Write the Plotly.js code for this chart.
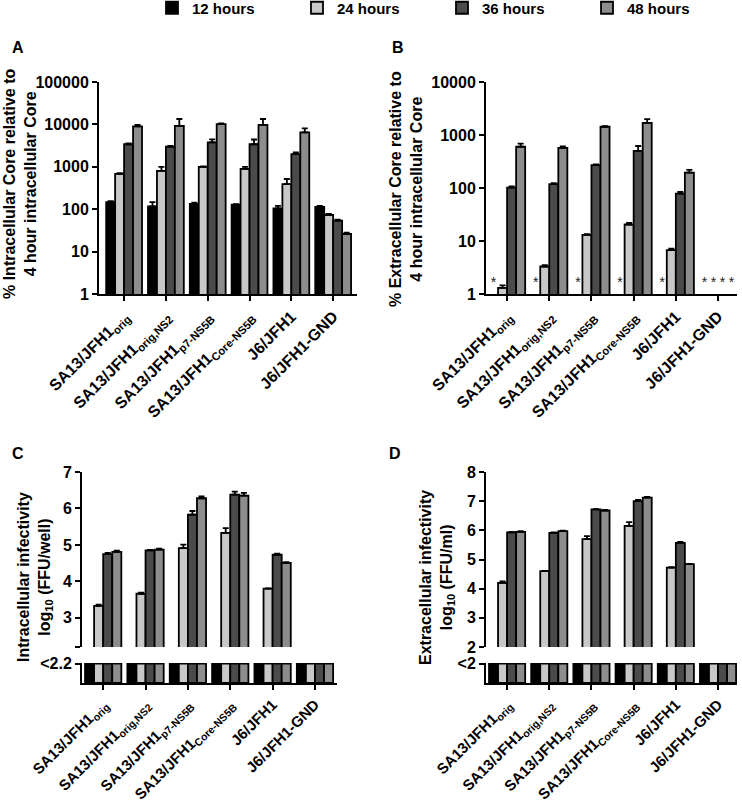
<!DOCTYPE html>
<html>
<head>
<meta charset="utf-8">
<script src="https://cdn.plot.ly/plotly-3.0.1.min.js"></script>
<style>html,body{margin:0;padding:0;background:#fff;} #chart{width:742px;height:806px;}</style>
</head>
<body>
<div id="chart"></div>
<script>
// ---------- DATA ----------
const strains = ["SA13/JFH1<sub>orig</sub>", "SA13/JFH1<sub>orig,NS2</sub>", "SA13/JFH1<sub>p7-NS5B</sub>", "SA13/JFH1<sub>Core-NS5B</sub>", "J6/JFH1", "J6/JFH1-GND"];
const seriesNames = ["12 hours", "24 hours", "36 hours", "48 hours"];
const seriesColors = ["#000000", "#c8c8c8", "#4b4b4b", "#8d8d8d"];

// Panel A: % intracellular Core relative to 4 h intracellular Core
const A_12h = [146, 117, 133, 128, 105, 114];
const A_24h = [680, 800, 1000, 890, 390, 73];
const A_36h = [3400, 2970, 3780, 3400, 2000, 54];
const A_48h = [9000, 9200, 10200, 9700, 6500, 26];
const A_12h_err = [8, 30, 10, 4, 15, 5];
const A_24h_err = [30, 200, 25, 110, 125, 4];
const A_36h_err = [150, 150, 650, 1000, 200, 3];
const A_48h_err = [700, 4200, 400, 3700, 1600, 2];

// Panel B: % extracellular Core relative to 4 h intracellular Core (null = below detection, "*")
const B_12h = [null, null, null, null, null, null];
const B_24h = [1.3, 3.3, 13, 20.5, 6.7, null];
const B_36h = [102, 118, 270, 500, 78, null];
const B_48h = [600, 570, 1430, 1700, 195, null];
const B_12h_err = [0, 0, 0, 0, 0, 0];
const B_24h_err = [0.15, 0.2, 0.5, 1.5, 0.5, 0];
const B_36h_err = [5, 5, 10, 120, 6, 0];
const B_48h_err = [90, 40, 40, 300, 25, 0];

// Panel C: intracellular infectivity log10 (FFU/well) (null = below 2.2)
const C_limit = 2.2;
const C_12h = [null, null, null, null, null, null];
const C_24h = [3.33, 3.66, 4.91, 5.33, 3.80, null];
const C_36h = [4.75, 4.85, 5.83, 6.38, 4.73, null];
const C_48h = [4.81, 4.87, 6.28, 6.35, 4.51, null];
const C_24h_err = [0.03, 0.03, 0.10, 0.13, 0.01, 0];
const C_36h_err = [0.03, 0.01, 0.10, 0.08, 0.03, 0];
const C_48h_err = [0.03, 0.03, 0.05, 0.08, 0.02, 0];

// Panel D: extracellular infectivity log10 (FFU/ml) (null = below 2)
const D_limit = 2;
const D_12h = [null, null, null, null, null, null];
const D_24h = [4.20, 4.60, 5.70, 6.15, 4.72, null];
const D_36h = [5.93, 5.91, 6.72, 7.00, 5.57, null];
const D_48h = [5.95, 5.97, 6.68, 7.12, 4.84, null];
const D_24h_err = [0.05, 0.01, 0.10, 0.13, 0.02, 0];
const D_36h_err = [0.02, 0.02, 0.01, 0.04, 0.03, 0];
const D_48h_err = [0.02, 0.02, 0.02, 0.03, 0.01, 0];

const C_yticks = [2.2, 3, 4, 5, 6, 7];
const C_yticktext = [" ", "3", "4", "5", "6", "7"];
const D_yticks = [2, 3, 4, 5, 6, 7, 8];

// ---------- BUILD ----------
const W = 742, H = 806;
const fx = px => px / W;
const fy = py => 1 - py / H;
const FONT = "Liberation Sans, Arial, Helvetica, sans-serif";
const BARGAP = 0.143;
const idx = strains.map((s, i) => i);
const zeros = idx.map(() => 0);

function barTrace(k, y, err, xa, ya, showLegend) {
  const t = {
    type: "bar", x: idx, y: y, name: seriesNames[k], legendgroup: seriesNames[k],
    showlegend: !!showLegend, xaxis: xa, yaxis: ya,
    marker: { color: seriesColors[k], line: { color: "#000", width: 1.8 } },
    hoverinfo: "skip"
  };
  if (err) {
    t.error_y = { type: "data", symmetric: false, array: err, arrayminus: zeros,
      color: "#000", thickness: 1.8, width: 3 };
  }
  return t;
}

const traces = [];
// Panel A
[[A_12h, A_12h_err], [A_24h, A_24h_err], [A_36h, A_36h_err], [A_48h, A_48h_err]]
  .forEach((d, k) => traces.push(barTrace(k, d[0], d[1], "x", "y", true)));
// Panel B
const Bset = [[B_12h, B_12h_err], [B_24h, B_24h_err], [B_36h, B_36h_err], [B_48h, B_48h_err]];
Bset.forEach((d, k) => traces.push(barTrace(k, d[0], d[1], "x2", "y2", false)));
// asterisks for undetectable values in B
const barW = (1 - BARGAP) / 4;
const starX = [], starY = [];
Bset.forEach((d, k) => d[0].forEach((v, i) => {
  if (v === null) { starX.push(i + (k - 1.5) * barW); starY.push(1.55); }
}));
traces.push({ type: "scatter", mode: "text", x: starX, y: starY, text: starX.map(() => "*"),
  textfont: { family: FONT, size: 14, color: "#222" }, xaxis: "x2", yaxis: "y2",
  showlegend: false, hoverinfo: "skip" });

// Panel C (upper part and lower "<limit" stub)
const Cset = [[C_12h, null], [C_24h, C_24h_err], [C_36h, C_36h_err], [C_48h, C_48h_err]];
Cset.forEach((d, k) => traces.push(barTrace(k, d[0], d[1], "x4", "y4", false)));
Cset.forEach((d, k) => traces.push(barTrace(k, d[0].map(v => v === null ? C_limit : Math.min(v, C_limit)), null, "x3", "y3", false)));
// Panel D
const Dset = [[D_12h, null], [D_24h, D_24h_err], [D_36h, D_36h_err], [D_48h, D_48h_err]];
Dset.forEach((d, k) => traces.push(barTrace(k, d[0], d[1], "x6", "y6", false)));
Dset.forEach((d, k) => traces.push(barTrace(k, d[0].map(v => v === null ? D_limit : Math.min(v, D_limit)), null, "x5", "y5", false)));

const axBase = {
  showline: true, linecolor: "#000", linewidth: 2, mirror: false,
  ticks: "outside", ticklen: 5, tickwidth: 2, tickcolor: "#000",
  showgrid: false, zeroline: false, fixedrange: true,
  tickfont: { family: FONT, size: 16, color: "#000", weight: "bold" }
};
function xAx(dom, range, anchor, fsize) {
  return Object.assign({}, axBase, {
    domain: [fx(dom[0]), fx(dom[1])], range: range, anchor: anchor,
    tickmode: "array", tickvals: idx, ticktext: strains, tickangle: -45,
    tickfont: { family: FONT, size: fsize, color: "#000", weight: "bold" }
  });
}
function hiddenX(dom, match, anchor) {
  return { domain: [fx(dom[0]), fx(dom[1])], matches: match, anchor: anchor, visible: false, fixedrange: true };
}
function yAx(dom, extra) {
  return Object.assign({}, axBase, { domain: [fy(dom[1]), fy(dom[0])] }, extra);
}

const logTicksA = [1, 10, 100, 1000, 10000, 100000];
const logTicksB = [1, 10, 100, 1000, 10000];

const layout = {
  width: W, height: H,
  margin: { l: 0, r: 0, t: 0, b: 0, autoexpand: false },
  paper_bgcolor: "#fff", plot_bgcolor: "rgba(0,0,0,0)",
  font: { family: FONT, color: "#000" },
  barmode: "group", bargap: BARGAP, bargroupgap: 0,
  showlegend: true,
  legend: {
    orientation: "h", x: fx(152), xanchor: "left",
    yref: "container", y: 1 - 8 / H, yanchor: "middle",
    entrywidth: 100, entrywidthmode: "pixels",
    font: { family: FONT, size: 15, color: "#000", weight: "bold" },
    bgcolor: "rgba(0,0,0,0)", traceorder: "normal"
  },
  xaxis: xAx([99, 357], [-0.6, 5.57], "y", 16),
  yaxis: yAx([82, 294], { type: "log", range: [0, 5], anchor: "x", tickmode: "array",
    tickvals: logTicksA, ticktext: logTicksA.map(String) }),
  xaxis2: xAx([486, 737], [-0.5, 5.45], "y2", 16),
  yaxis2: yAx([82, 294], { type: "log", range: [0, 4], anchor: "x2", tickmode: "array",
    tickvals: logTicksB, ticktext: logTicksB.map(String) }),
  xaxis3: xAx([82, 337], [-0.5, 5.52], "y3", 15),
  yaxis3: yAx([663, 683], { range: [0, C_limit * 1.03], anchor: "x3", tickmode: "array",
    tickvals: [C_limit], ticktext: ["<" + C_limit] }),
  xaxis4: hiddenX([82, 337], "x3", "y4"),
  yaxis4: yAx([472, 647], { range: [C_limit, 7], anchor: "x4", tickmode: "array",
    tickvals: C_yticks, ticktext: C_yticktext }),
  xaxis5: xAx([486, 737], [-0.5, 5.45], "y5", 15),
  yaxis5: yAx([663, 683], { range: [0, D_limit * 1.03], anchor: "x5", tickmode: "array",
    tickvals: [D_limit], ticktext: ["<" + D_limit] }),
  xaxis6: hiddenX([486, 737], "x5", "y6"),
  yaxis6: yAx([472, 647], { range: [D_limit, 8], anchor: "x6", tickmode: "array",
    tickvals: D_yticks, ticktext: D_yticks.map(String) }),
  annotations: []
};

function ann(text, px, py, size, angle) {
  layout.annotations.push({
    text: text, x: fx(px), y: fy(py), xref: "paper", yref: "paper",
    xanchor: "center", yanchor: "middle", showarrow: false, textangle: angle || 0,
    font: { family: FONT, size: size, color: "#000", weight: "bold" }
  });
}
ann("A", 18, 47, 16);
ann("B", 398, 47, 16);
ann("C", 18, 453, 16);
ann("D", 395, 453, 16);
ann("% Intracellular Core relative to<br>4 hour intracellular Core", 20, 184, 16, -90);
ann("% Extracellular Core relative to<br>4 hour intracellular Core", 406, 189, 16, -90);
ann("Intracellular infectivity<br>log<sub>10</sub> (FFU/well)", 35, 577, 16, -90);
ann("Extracellular infectivity<br>log<sub>10</sub> (FFU/ml)", 437, 578, 16, -90);

Plotly.newPlot("chart", traces, layout, { staticPlot: true, displayModeBar: false });
</script>
</body>
</html>
